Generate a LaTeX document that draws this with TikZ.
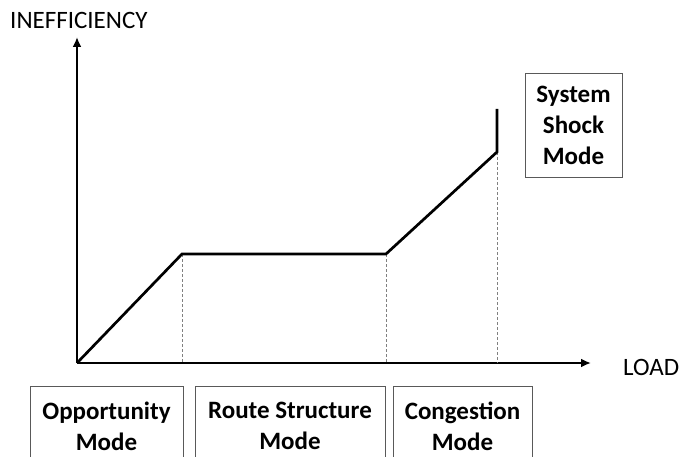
\documentclass[tikz,border=0pt]{standalone}
\usepackage{fontspec}
\setmainfont{Carlito}
\usetikzlibrary{arrows.meta}

\tikzset{
  modebox/.style={draw=black!65, line width=0.9pt, align=center, font=\bfseries\fontsize{25}{31}\selectfont, inner sep=0pt},
  axislabel/.style={font=\fontsize{25}{30}\selectfont, inner sep=0pt},
  guide/.style={draw=black!50, dashed, line width=0.8pt, dash pattern=on 3pt off 2pt}
}

\begin{document}
\begin{tikzpicture}[x=1pt, y=1pt]
\useasboundingbox (0,0) rectangle (680,456);
\clip (0,0) rectangle (680,456);

% axes
\coordinate (O) at (77,93);
\coordinate (ytip) at (77,419);
\coordinate (xtip) at (591,93);
\draw[line width=2.7pt, -{Latex[length=10pt,width=9pt]}] (O) -- (ytip);
\draw[line width=2.7pt, -{Latex[length=10pt,width=9pt]}] (O) -- (xtip);
\node[axislabel, anchor=base west] (ineff) at (10,427) {INEFFICIENCY};
\node[axislabel, anchor=base west] (load) at (623,81) {LOAD};

% inefficiency curve
\coordinate (p1) at (182,202);
\coordinate (p2) at (386,202);
\coordinate (p3) at (497,304);
\coordinate (p4) at (497,347);
\draw[guide] (p1) -- (p1 |- O);
\draw[guide] (p2) -- (p2 |- O);
\draw[guide] (p3) -- (p3 |- O);
\draw[line width=2.7pt, line join=miter] (O) -- (p1) -- (p2) -- (p3) -- (p4);

% modes
\node[modebox, minimum width=153pt, minimum height=80pt] (opp) at (106.5,30) {Opportunity\\Mode};
\node[modebox, minimum width=190pt, minimum height=80pt] (route) at (290,30) {Route Structure\\Mode};
\node[modebox, minimum width=139pt, minimum height=80pt] (cong) at (462.5,30) {Congestion\\Mode};
\node[modebox, minimum width=97pt, minimum height=104pt] (shock) at (573.5,331) {System\\Shock\\Mode};
\end{tikzpicture}
\end{document}
